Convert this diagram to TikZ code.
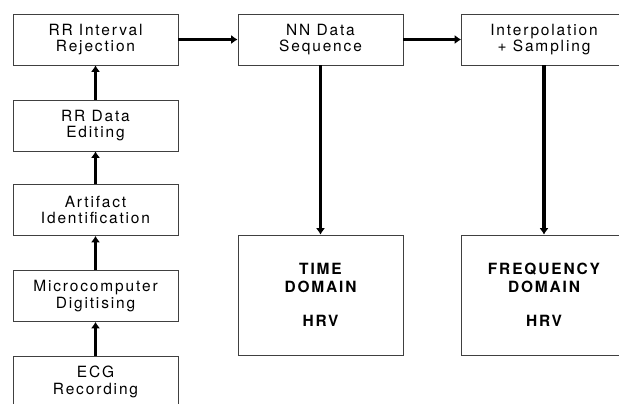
\documentclass[tikz,border=0pt]{standalone}
\usepackage{fontspec}
\setmainfont{TeX Gyre Heros}[LetterSpace=12]
\usetikzlibrary{arrows.meta}

\begin{document}
\begin{tikzpicture}[x=0.025cm,y=-0.025cm,
  box/.style={rectangle,draw=black!75,line width=0.6pt,align=center,
    minimum width=4.125cm,minimum height=1.275cm,inner sep=0pt,
    font=\fontsize{11}{12}\selectfont},
  bigbox/.style={box,minimum height=3cm,font=\fontsize{11}{12.5}\selectfont\bfseries},
  flow/.style={line width=2.3pt,-{Latex[length=4.5pt,width=6.5pt]}}]
\useasboundingbox (0,0) rectangle (619,403);
\fill[white] (0,0) rectangle (619,403);
% left column, bottom to top
\node (ecg)   at (95.5,381.5) [box] {ECG\\Recording};
\node (micro) at (95.5,296)   [box] {Microcomputer\\Digitising};
\node (art)   at (95.5,210)   [box] {Artifact\\Identification};
\node (edit)  at (95.5,125.5) [box] {RR Data\\Editing};
\node (rej)   at (95.5,39.5)  [box] {RR Interval\\Rejection};
% top row
\node (nn)     at (320.5,39.5) [box] {NN Data\\Sequence};
\node (interp) at (544,39.5)   [box] {Interpolation\\+ Sampling};
% results
\node (time) at (320.5,295) [bigbox] {TIME\\DOMAIN\\[12pt]HRV};
\node (freq) at (544,295)   [bigbox] {FREQUENCY\\DOMAIN\\[12pt]HRV};
% connectors
\draw[flow] (ecg) -- (micro);
\draw[flow] (micro) -- (art);
\draw[flow] (art) -- (edit);
\draw[flow] (edit) -- (rej);
\draw[flow] (rej) -- (nn);
\draw[flow] (nn) -- (interp);
\draw[flow] (nn) -- (time);
\draw[flow] (interp) -- (freq);
\end{tikzpicture}
\end{document}
